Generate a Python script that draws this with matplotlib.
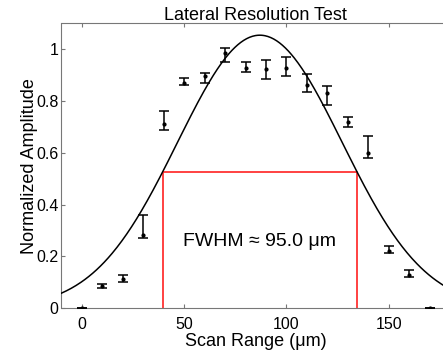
import numpy as np
import matplotlib.pyplot as plt

plt.rcParams['font.family'] = ['Liberation Sans', 'DejaVu Sans']

# measured points (scan position, normalized amplitude, lower/upper error)
scan_x = [0, 10, 20, 30, 40, 50, 60, 70, 80, 90, 100, 110, 120, 130, 140, 150, 160, 170]
amp = [0.0, 0.087, 0.113, 0.284, 0.709, 0.868, 0.894, 0.986, 0.926, 0.922, 0.928,
       0.860, 0.829, 0.718, 0.597, 0.222, 0.129, 0.0]
err_lo = [0.0, 0.008, 0.013, 0.013, 0.023, 0.007, 0.024, 0.036, 0.013, 0.038, 0.032,
          0.026, 0.045, 0.019, 0.019, 0.009, 0.009, 0.0]
err_hi = [0.0, 0.008, 0.015, 0.077, 0.052, 0.019, 0.015, 0.016, 0.022, 0.035, 0.041,
          0.043, 0.028, 0.019, 0.067, 0.019, 0.019, 0.0]

# gaussian fit parameters
fit_amp = 1.053
fit_center = 87.0
fwhm = 95.0

fig = plt.figure(figsize=(4.43, 3.53), dpi=100)
ax = fig.add_axes([61.5 / 443, 44.7 / 353, 388.5 / 443, 285.3 / 353])

sigma = fwhm / (2 * np.sqrt(2 * np.log(2)))
xs = np.linspace(-10, 180, 400)
ax.plot(xs, fit_amp * np.exp(-(xs - fit_center) ** 2 / (2 * sigma ** 2)),
        color='black', lw=1.1, zorder=3)

ax.errorbar(scan_x, amp, yerr=[err_lo, err_hi], fmt='.', color='black',
            ms=4, lw=1.1, capsize=3.5, capthick=1.1, zorder=4)

# FWHM box
half = fit_amp / 2
x1 = fit_center - fwhm / 2
x2 = fit_center + fwhm / 2
ax.plot([x1, x1, x2, x2], [0, half, half, 0], color='#ff3333', lw=1.3, zorder=2)
ax.text((x1 + x2) / 2, 0.258, 'FWHM \u2248 95.0 \u03bcm', ha='center', va='center',
        fontsize=14)

ax.set_xlim(-10, 180)
ax.set_ylim(0, 1.1)
ax.set_xticks([0, 50, 100, 150])
ax.set_yticks([0, 0.2, 0.4, 0.6, 0.8, 1])
ax.set_yticklabels(['0', '0.2', '0.4', '0.6', '0.8', '1'])
ax.tick_params(direction='in', length=3, color='#777777', labelsize=11.5,
               top=True, right=True, pad=2)
ax.tick_params(axis='x', pad=6)
for s in ax.spines.values():
    s.set_color('#777777')

ax.set_title('Lateral Resolution Test', fontsize=13, pad=2)
ax.set_xlabel('Scan Range (\u03bcm)', fontsize=13, labelpad=1)
ax.set_ylabel('Normalized Amplitude', fontsize=13, labelpad=-1)

fig.savefig('out.png', dpi=100)
